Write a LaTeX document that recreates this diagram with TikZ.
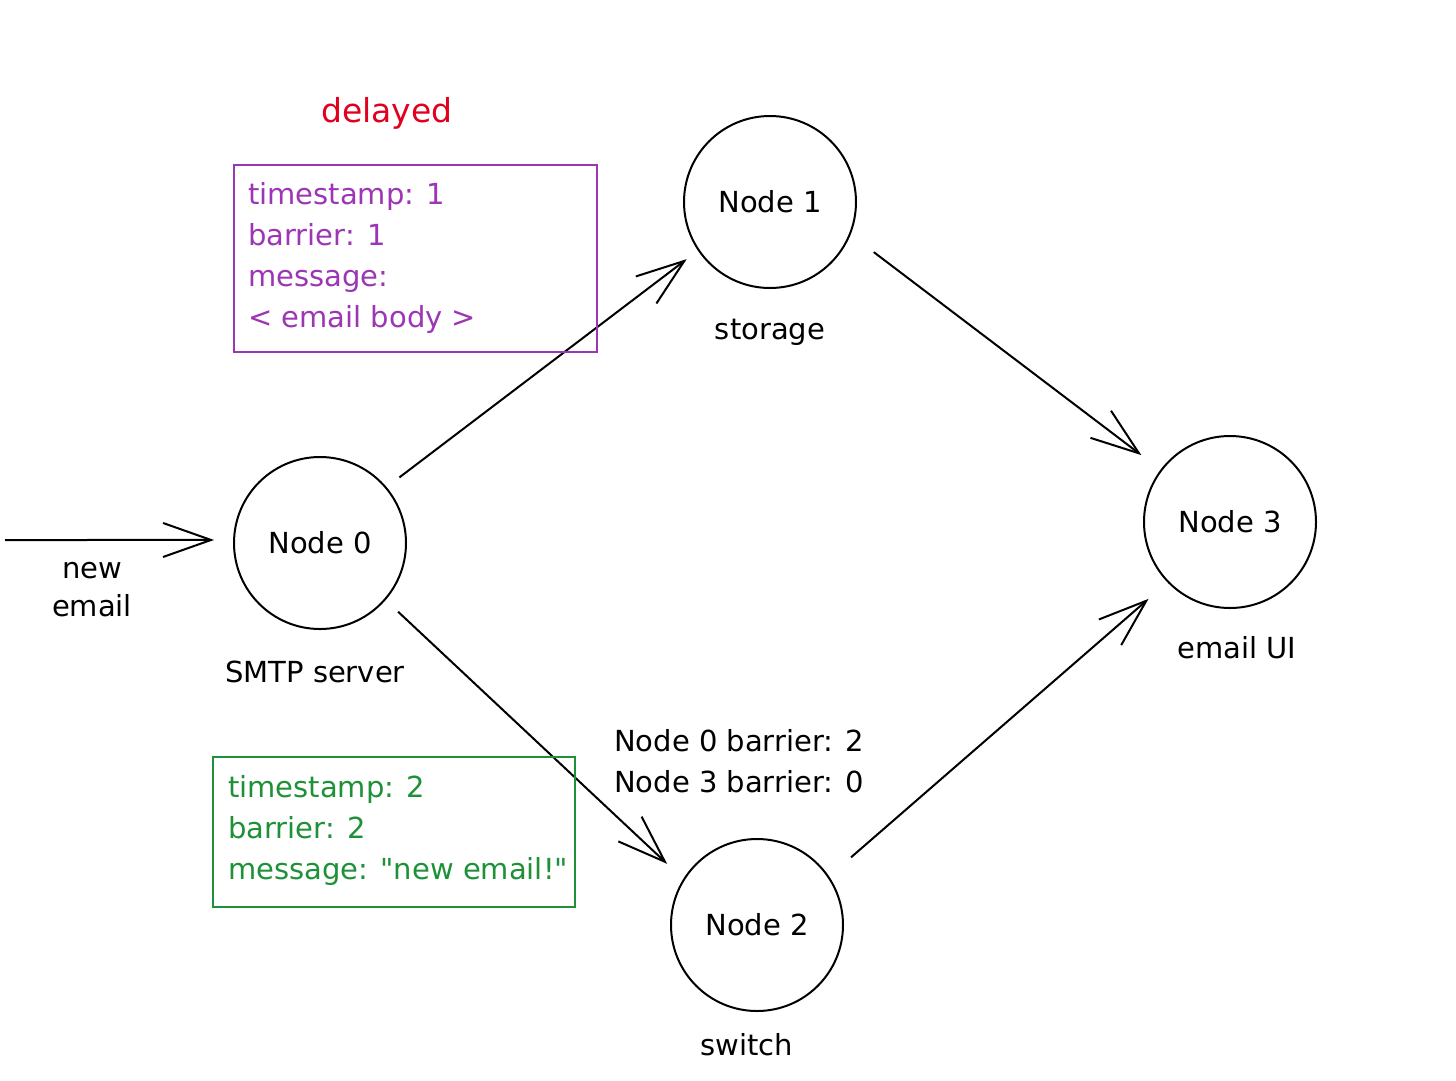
\documentclass[tikz,border=0pt]{standalone}
\usepackage{fontspec}
\setmainfont{DejaVu Sans}[Ligatures=TeXOff]
\usetikzlibrary{arrows.meta}
\definecolor{cpurple}{HTML}{9C36B5}
\definecolor{cred}{HTML}{E0001F}
\definecolor{cgreen}{HTML}{1E9138}
\begin{document}
\begin{tikzpicture}[x=1pt,y=-1pt,
  circ/.style={draw,circle,line width=2pt,minimum size=172pt,inner sep=0pt,font=\fontsize{29}{34}\selectfont},
  lbl/.style={font=\fontsize{29}{40}\selectfont,inner sep=0pt},
  arr/.style={line width=2pt,-{Straight Barb[length=48pt,width=34pt,line width=2pt]}},
  boxtext/.style={align=left,anchor=north west,inner sep=0pt,font=\fontsize{29}{41}\selectfont},
  frame/.style={line width=2pt}
]
\useasboundingbox (0,0) rectangle (1456,1080);
\fill[white] (0,0) rectangle (1456,1080);

\node[circ] (n0) at (320,543) {Node 0};
\node[circ] (n1) at (770,202) {Node 1};
\node[circ] (n2) at (757,925) {Node 2};
\node[circ] (n3) at (1230,522) {Node 3};

\node[lbl] (l0) at (315,672) {SMTP server};
\node[lbl] (l1) at (770,332) {storage};
\node[lbl] (l2) at (747,1045) {switch};
\node[lbl] (l3) at (1237,648) {email UI};
\node[lbl,align=center,font=\fontsize{29}{38}\selectfont] (lnew) at (92,590) {new\\email};

\coordinate (src) at (5,540);
\draw[arr,shorten >=19pt] (src) -- (n0.178);
\draw[arr,shorten <=16pt,shorten >=14pt] (n0.40) -- (n1.-146);
\draw[arr,shorten <=29pt,shorten >=24pt] (n1.-22) -- (n3.143);
\draw[arr,shorten <=17pt,shorten >=22pt] (n0.-41) -- (n2.148);
\draw[arr,shorten <=29pt,shorten >=25pt] (n2.34) -- (n3.-136);

\node[lbl,text=cred,font=\fontsize{33}{40}\selectfont] (delayed) at (387,113) {delayed};

\draw[cpurple,frame] (234,165) rectangle (597,352);
\node[boxtext,text=cpurple] (pbox) at (248,182)
  {timestamp: 1\\barrier: 1\\message:\\< email body >};

\draw[cgreen,frame] (213,757) rectangle (575,907);
\node[boxtext,text=cgreen] (gbox) at (228,775)
  {timestamp: 2\\barrier: 2\\message: "new email!"};

\node[boxtext] (bar) at (614,729)
  {Node 0 barrier: 2\\Node 3 barrier: 0};
\end{tikzpicture}
\end{document}
